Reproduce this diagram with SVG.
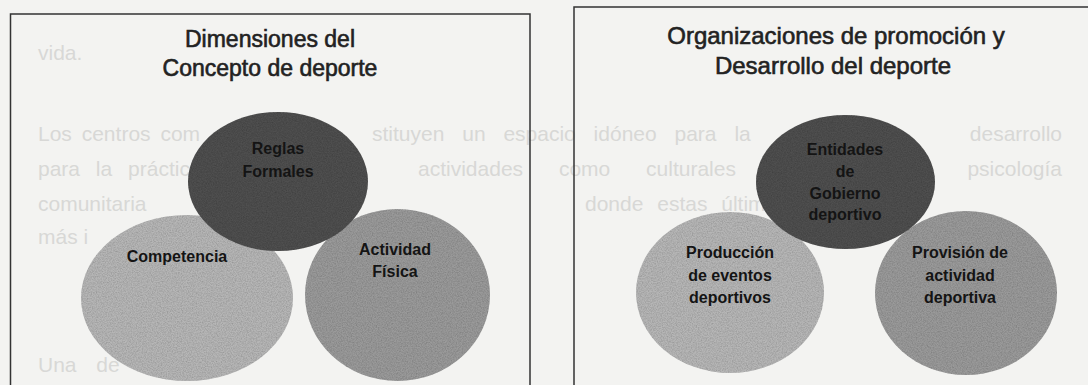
<svg xmlns="http://www.w3.org/2000/svg" width="1088" height="385" viewBox="0 0 1088 385">
<defs>
<style>
.bg{fill:#f3f3f1}
.ghost{font-family:"Liberation Sans",Arial,sans-serif;font-size:21px;fill:#d8d8d6}
.box{fill:none;stroke:#333;stroke-width:1.5}
.title{font-family:"Liberation Sans",Arial,sans-serif;fill:#222;stroke:#222;stroke-width:0.6;text-anchor:middle}
.lbl{font-family:"Liberation Sans",Arial,sans-serif;font-size:16px;font-weight:bold;fill:#141414;text-anchor:middle}
.dark{fill:#4f4f4f}
.light{fill:#b6b6b6}
.mid{fill:#9a9a9a}
</style>
<filter id="grain" x="-5%" y="-5%" width="110%" height="110%">
<feTurbulence type="fractalNoise" baseFrequency="0.8" numOctaves="2" seed="7" result="t"/>
<feColorMatrix in="t" type="matrix" values="0 0 0 0 0  0 0 0 0 0  0 0 0 0 0  0.6 0 0 0 -0.2" result="spots"/>
<feComposite in="spots" in2="SourceAlpha" operator="in" result="s2"/>
<feMerge><feMergeNode in="SourceGraphic"/><feMergeNode in="s2"/></feMerge>
</filter>
</defs>
<rect class="bg" x="0" y="0" width="1088" height="385"/>
<g id="background-text" class="ghost">
<text x="38" y="60">vida.</text>
<text x="38" y="141" word-spacing="4">Los centros com</text>
<text x="372" y="141" word-spacing="12">stituyen un espacio idóneo para la</text>
<text x="1062" y="141" text-anchor="end">desarrollo</text>
<text x="38" y="176" word-spacing="10">para la práctica</text>
<text x="418" y="176" word-spacing="30">actividades como culturales</text>
<text x="1062" y="176" text-anchor="end">psicología</text>
<text x="38" y="211">comunitaria</text>
<text x="585" y="211" word-spacing="8">donde estas últimas</text>
<text x="38" y="244">más i</text>
<text x="38" y="372" word-spacing="14">Una de</text>
</g>
<g id="frame-left"><path class="box" d="M10.5 385 V14 H530 V385"/></g>
<g id="frame-right"><path class="box" d="M574 385 V7 H1088"/></g>
<g id="title-left">
<text class="title" font-size="23" x="270" y="47">Dimensiones del</text>
<text class="title" font-size="23" x="270" y="76">Concepto de deporte</text>
</g>
<g id="title-right">
<text class="title" font-size="24" x="836" y="44">Organizaciones de promoción y</text>
<text class="title" font-size="24" x="833" y="74">Desarrollo del deporte</text>
</g>
<g id="connectors"/>
<g id="node-competencia">
<ellipse class="light" filter="url(#grain)" cx="187" cy="298" rx="106" ry="83"/>
<text class="lbl" x="177" y="261.5">Competencia</text>
</g>
<g id="node-actividad-fisica">
<ellipse class="mid" filter="url(#grain)" cx="397.5" cy="295" rx="92.5" ry="86"/>
<text class="lbl" x="395" y="255">Actividad</text>
<text class="lbl" x="395" y="277">Física</text>
</g>
<g id="node-reglas-formales">
<ellipse class="dark" filter="url(#grain)" cx="278" cy="181.5" rx="90" ry="69.5"/>
<text class="lbl" x="278" y="154" font-size="15.5">Reglas</text>
<text class="lbl" x="278" y="176.5" font-size="15.5">Formales</text>
</g>
<g id="node-produccion">
<ellipse class="light" filter="url(#grain)" cx="730" cy="292.5" rx="94" ry="80.5"/>
<text class="lbl" x="730" y="258" font-size="16.5">Producción</text>
<text class="lbl" x="730" y="280.5" font-size="16.5">de eventos</text>
<text class="lbl" x="730" y="303" font-size="16.5">deportivos</text>
</g>
<g id="node-provision">
<ellipse class="mid" filter="url(#grain)" cx="966" cy="293" rx="91" ry="82"/>
<text class="lbl" x="960" y="258" font-size="16.5">Provisión de</text>
<text class="lbl" x="960" y="281" font-size="16.5">actividad</text>
<text class="lbl" x="960" y="303" font-size="16.5">deportiva</text>
</g>
<g id="node-entidades">
<ellipse class="dark" filter="url(#grain)" cx="845.5" cy="182" rx="89.5" ry="67"/>
<text class="lbl" x="845" y="155">Entidades</text>
<text class="lbl" x="845" y="177">de</text>
<text class="lbl" x="845" y="198.5">Gobierno</text>
<text class="lbl" x="845" y="220">deportivo</text>
</g>
</svg>
